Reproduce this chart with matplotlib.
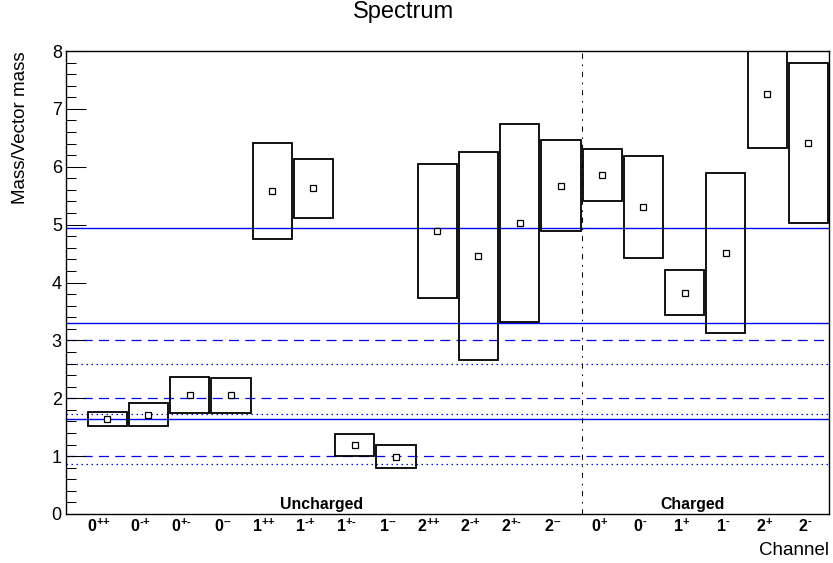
import numpy as np
import matplotlib
matplotlib.use('Agg')
import matplotlib.pyplot as plt
import matplotlib.transforms as mtransforms
from matplotlib.patches import Rectangle
from matplotlib.ticker import MultipleLocator

plt.rcParams['font.family'] = ['Liberation Sans', 'DejaVu Sans']
plt.rcParams['mathtext.fontset'] = 'custom'
plt.rcParams['mathtext.rm'] = 'Liberation Sans'
plt.rcParams['mathtext.bf'] = 'Liberation Sans:bold'
plt.rcParams['mathtext.it'] = 'Liberation Sans:italic'

# данные: каналы (спин + чётности), масса и границы коробок
spins = [0, 0, 0, 0, 1, 1, 1, 1, 2, 2, 2, 2, 0, 0, 1, 1, 2, 2]
parities = ['++', '-+', '+-', '--', '++', '-+', '+-', '--', '++', '-+', '+-', '--',
            '+', '-', '+', '-', '+', '-']
mass = [1.65, 1.71, 2.06, 2.05, 5.58, 5.63, 1.19, 0.99, 4.89, 4.45, 5.03, 5.67,
        5.86, 5.30, 3.82, 4.51, 7.25, 6.41]
low = [1.52, 1.52, 1.74, 1.745, 4.75, 5.12, 1.00, 0.79, 3.73, 2.655, 3.32, 4.89,
       5.41, 4.43, 3.43, 3.12, 6.32, 5.03]
high = [1.77, 1.91, 2.37, 2.35, 6.415, 6.13, 1.38, 1.20, 6.04, 6.255, 6.74, 6.455,
        6.31, 6.18, 4.21, 5.90, 8.17, 7.80]

# горизонтальные линии
solid_lines = [1.65, 3.30, 4.95]
dashed_lines = [1.0, 2.0, 3.0]
dotted_lines = [0.864, 1.728, 2.592]

n_uncharged = 12
groups = ['Uncharged', 'Charged']
group_x = [6.2, 15.2]

x = np.arange(1, len(mass) + 1)


def sup(p):
    # каждый знак в фигурных скобках, чтобы не было лишних отступов
    return ''.join('{%s}' % ('\u2010' if c == '-' else c) for c in p)


labels = [r'$\mathbf{%d}^{\mathbf{%s}}$' % (s, sup(p)) for s, p in zip(spins, parities)]

fig = plt.figure(figsize=(8.33, 5.63), dpi=100)
ax = fig.add_axes([66 / 833, 49 / 563, 763 / 833, 463 / 563])

blue = '#0000ff'
for y in solid_lines:
    ax.axhline(y, color=blue, lw=1.0, zorder=1)
for y in dashed_lines:
    ax.axhline(y, color=blue, lw=0.9, linestyle=(0, (8, 5)), zorder=1)
for y in dotted_lines:
    ax.axhline(y, color=blue, lw=0.9, linestyle=(0, (1.2, 2.8)), zorder=1)

# коробки
w = 0.95
for xi, lo, hi in zip(x, low, high):
    ax.add_patch(Rectangle((xi - w / 2, lo), w, hi - lo, fill=False,
                           edgecolor='black', lw=1.3, zorder=3))
ax.plot(x, mass, linestyle='none', marker='s', markersize=3.8,
        markerfacecolor='white', markeredgecolor='black', markeredgewidth=0.9, zorder=4)

# разделитель
ax.plot([n_uncharged + 0.5, n_uncharged + 0.5], [0, 8], color='black', lw=0.75,
        linestyle=(0, (5, 5.5, 1.5, 5.5)), zorder=2)

for gx, g in zip(group_x, groups):
    ax.text(gx, 0.04, g, ha='center', va='bottom', fontsize=11.4, fontweight='bold')

ax.set_xlim(0, 18.5)
ax.set_ylim(0, 8)
ax.set_xticks(x)
ax.set_xticklabels(labels, fontsize=11.5)
ax.tick_params(axis='x', length=0, pad=3)
# сдвиг подписей влево, как в ROOT
for lab, p in zip(ax.get_xticklabels(), parities):
    dx = -8 if len(p) == 2 else -3
    lab.set_transform(lab.get_transform() +
                      mtransforms.ScaledTranslation(dx / 100, 0, fig.dpi_scale_trans))
ax.yaxis.set_major_locator(MultipleLocator(1))
ax.yaxis.set_minor_locator(MultipleLocator(0.2))
ax.tick_params(axis='y', which='major', direction='in', length=14.4, width=0.75,
               labelsize=13, pad=3)
ax.tick_params(axis='y', which='minor', direction='in', length=7.2, width=0.75)
for sp in ax.spines.values():
    sp.set_linewidth(1.0)

ax.set_ylabel('Mass/Vector mass', fontsize=13.5, loc='top')
ax.yaxis.set_label_coords(-0.048, 1.0)
ax.text(1.0, -0.0886, 'Channel', transform=ax.transAxes, ha='right', va='baseline',
        fontsize=13.5)
fig.text(403 / 833, 1 - 18 / 563, 'Spectrum', ha='center', va='baseline', fontsize=17)

fig.savefig('out.png', dpi=100)
